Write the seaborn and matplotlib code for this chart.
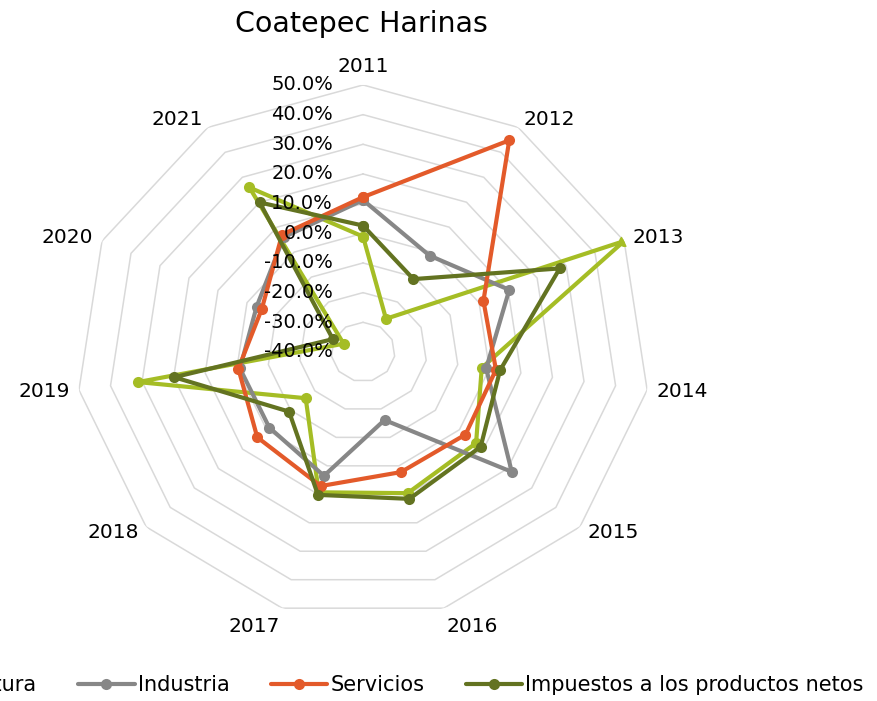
import numpy as np
import pandas as pd
import matplotlib
matplotlib.use("Agg")
import matplotlib.pyplot as plt
import matplotlib.transforms as mtransforms
import seaborn as sns

# Data (percent change per year)
years = ['2011', '2012', '2013', '2014', '2015', '2016',
         '2017', '2018', '2019', '2020', '2021']
agricultura = [-1.1, -26.7, 50.0, -2.4, 6.9, 9.6, 9.3, -16.2, 31.3, -33.3, 25.9]
industria = [11.2, -1.4, 10.4, -1.0, 21.7, -16.1, 3.5, -1.1, -1.0, -3.3, 6.0]
servicios = [12.2, 44.8, 1.5, 2.1, 2.5, 2.2, 7.1, 3.9, -0.5, -5.1, 7.0]
impuestos = [2.6, -10.8, 27.8, 3.4, 8.8, 11.6, 10.2, -9.3, 19.8, -29.6, 19.9]

series_names = ['Agricultura', 'Industria', 'Servicios',
                'Impuestos a los productos netos']
r_ticks = [-40, -30, -20, -10, 0, 10, 20, 30, 40, 50]
r_labels = ['%.1f%%' % v for v in r_ticks]

colors = ['#A5BD25', '#878787', '#E35A2A', '#637321']

sns.set_style('white')
plt.rcParams['text.color'] = 'black'

fig = plt.figure(figsize=(8.78, 7.01), dpi=100)
ax = fig.add_axes([0.0866, 0.117, 0.6538, 0.7618], projection='polar')
ax.set_aspect('auto')
ax.set_theta_zero_location('N')
ax.set_theta_direction(-1)

n = len(years)
theta = np.linspace(0, 2 * np.pi, n, endpoint=False)
theta_closed = np.append(theta, 2 * np.pi)

# polygon grid rings like the spreadsheet radar chart
for lev in r_ticks[1:]:
    ax.plot(theta_closed, [lev] * (n + 1), color='#D9D9D9', lw=1.1, zorder=1)

all_series = [agricultura, industria, servicios, impuestos]
for name, vals, c in zip(series_names, all_series, colors):
    df = pd.DataFrame({'theta': theta_closed,
                       'value': list(vals) + [vals[0]]})
    sns.lineplot(data=df, x='theta', y='value', ax=ax, sort=False,
                 errorbar=None, color=c, lw=3, marker='o', markersize=8,
                 markeredgewidth=0, label=name, zorder=3)

ax.set_ylim(-40, 50)
ax.set_xticks([])
ax.set_yticks([])
ax.grid(False)
ax.spines['polar'].set_visible(False)
ax.set_xlabel('')
ax.set_ylabel('')
handles, labels = ax.get_legend_handles_labels()
if ax.get_legend() is not None:
    ax.get_legend().remove()

# value labels left of the 2011 axis
offset = mtransforms.ScaledTranslation(-0.30, 0, fig.dpi_scale_trans)
for v, lab in zip(r_ticks, r_labels):
    ax.text(0, v, lab, transform=ax.transData + offset, ha='right',
            va='center', fontsize=14, color='black', zorder=5)

# category labels around the outside
for t, yr in zip(theta, years):
    s, c = np.sin(t), np.cos(t)
    ha = 'left' if s > 0.05 else ('right' if s < -0.05 else 'center')
    if c > 0.95:
        va = 'bottom'
    elif c < -0.9:
        va = 'top'
    else:
        va = 'center'
    ax.text(t, 53, yr, ha=ha, va=va, fontsize=14.5, color='black')

fig.text(361 / 878, 1 - 31.7 / 701, 'Coatepec Harinas', ha='center',
         va='baseline', fontsize=20.5, color='black')

leg = fig.legend(handles, labels, loc='center',
                 bbox_to_anchor=(363 / 878, 1 - 685 / 701),
                 ncol=4, frameon=False, fontsize=15, handlelength=2.7,
                 handletextpad=0.15, columnspacing=2.0)
for txt in leg.get_texts():
    txt.set_color('black')

fig.savefig('out.png', dpi=100)
